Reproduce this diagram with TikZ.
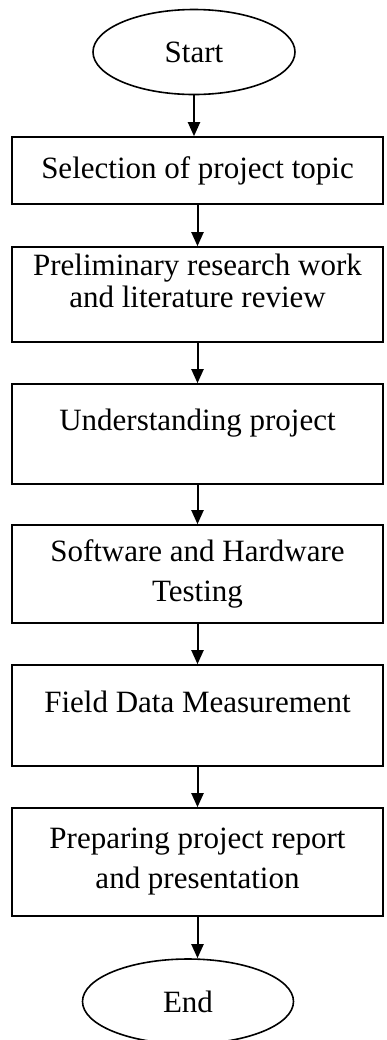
\documentclass[tikz,border=0pt]{standalone}
\usepackage{fontspec}
\setmainfont{Liberation Serif}
\usetikzlibrary{positioning,shapes.geometric,arrows.meta}
\tikzstyle{termNode}=[draw,ellipse,line width=0.8pt,inner sep=0pt,minimum height=42.5pt,font=\fontsize{15.5}{20}\selectfont]
\tikzstyle{stageNode}=[draw,rectangle,line width=0.8pt,inner sep=0pt,minimum width=185.5pt,align=center,font=\fontsize{15.5}{20}\selectfont]
\tikzstyle{flow}=[-{Triangle[width=6pt,length=7pt]},line width=1pt]

\begin{document}
\begin{tikzpicture}[x=0.5pt,y=-0.5pt]

    \useasboundingbox (0,0) rectangle (386,1040);

    \node[termNode,minimum width=101pt] (start) at (194, 52) {Start};

    \node[stageNode,minimum height=33.5pt] (s1) at (197.5, 170.5) {Selection of project topic};
    \node[stageNode,minimum height=47.5pt,font=\fontsize{15.5}{16}\selectfont] (s2) at (197.5, 294.5) {Preliminary research work\\and literature review\\[-2pt]~};
    \node[stageNode,minimum height=50pt] (s3) at (197.5, 434) {Understanding project\\[-6pt]~};
    \node[stageNode,minimum height=49pt] (s4) at (197.5, 574) {Software and Hardware\\Testing};
    \node[stageNode,minimum height=50.5pt] (s5) at (197.5, 715.5) {Field Data Measurement\\[-6pt]~};
    \node[stageNode,minimum height=54pt] (s6) at (197.5, 862) {Preparing project report\\and presentation};

    \node[termNode,minimum width=105.5pt] (end) at (188, 1001.5) {End};

    \draw[flow] (start) to (start |- s1.north);
    \draw[flow] (s1) to (s2);
    \draw[flow] (s2) to (s3);
    \draw[flow] (s3) to (s4);
    \draw[flow] (s4) to (s5);
    \draw[flow] (s5) to (s6);
    \draw[flow] (s6) to (s6 |- end.north);

\end{tikzpicture}
\end{document}
